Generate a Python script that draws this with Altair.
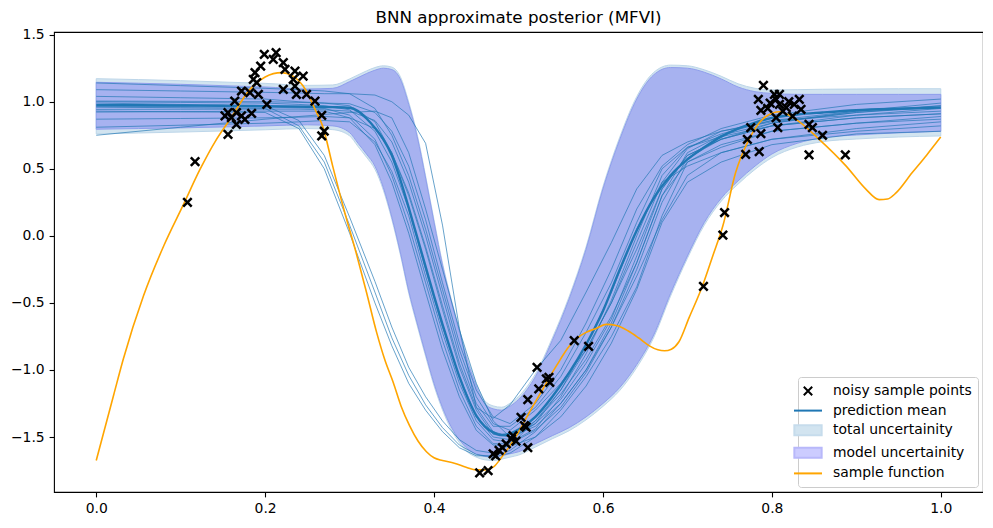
import altair as alt
import pandas as pd

# Values

TITLE = 'BNN approximate posterior (MFVI)'

X_TICKS = [0.0, 0.2, 0.4, 0.6, 0.8, 1.0]
Y_TICKS = [-1.5, -1.0, -0.5, 0.0, 0.5, 1.0, 1.5]

# noisy sample points
PTS_X = [
  0.108, 0.117, 0.1525, 0.156, 0.156, 0.160, 0.164, 0.166, 0.166, 0.172, 0.172, 0.176,
  0.182, 0.184, 0.186, 0.188, 0.190, 0.192, 0.1947, 0.199, 0.202, 0.2096, 0.213, 0.2215,
  0.2215, 0.2235, 0.2333, 0.2353, 0.2353, 0.237, 0.245, 0.249, 0.259, 0.267, 0.267, 0.270,
  0.454, 0.464, 0.470, 0.473, 0.477, 0.481, 0.4855, 0.4915, 0.4935, 0.497, 0.503,
  0.507, 0.509, 0.511, 0.511, 0.522, 0.524, 0.533, 0.536, 0.537, 0.566, 0.583,
  0.719, 0.742, 0.744, 0.769, 0.771, 0.775, 0.784, 0.785, 0.787, 0.787, 0.790,
  0.795, 0.798, 0.803, 0.805, 0.805, 0.807, 0.809, 0.809, 0.813, 0.817, 0.820,
  0.8245, 0.8265, 0.8325, 0.8345, 0.844, 0.844, 0.848, 0.860, 0.887,
]
PTS_Y = [
  0.249, 0.554, 0.894, 0.919, 0.757, 0.882, 1.005, 0.919, 0.832, 1.080, 0.894, 0.869,
  1.068, 0.914, 1.167, 1.217, 1.142, 1.055, 1.266, 1.353, 0.980, 1.316, 1.366, 1.291,
  1.092, 1.241, 1.167, 1.229, 1.117, 1.055, 1.191, 1.055, 1.005, 0.899, 0.745, 0.780,
  -1.767, -1.750, -1.625, -1.640, -1.600, -1.580, -1.551, -1.514, -1.490, -1.530, -1.353,
  -1.415, -1.427, -1.580, -1.221, -0.980, -1.141, -1.067, -1.055, -1.092, -0.782, -0.824,
  -0.377, 0.005, 0.174, 0.608, 0.720, 0.807, 1.018, 0.628, 0.936, 0.762, 1.122,
  0.950, 0.990, 1.055, 1.018, 0.881, 0.807, 1.055, 0.980, 0.930, 0.956, 1.000,
  0.893, 0.980, 1.018, 0.943, 0.832, 0.603, 0.807, 0.750, 0.603,
]

# sample function (orange)
FUNC_X = [
  0.000, 0.0205, 0.032, 0.056, 0.080, 0.1025, 0.123, 0.141, 0.1585, 0.182,
  0.200, 0.2195, 0.232, 0.245, 0.261, 0.268, 0.280, 0.294, 0.3075, 0.320,
  0.332, 0.342, 0.3515, 0.361, 0.371, 0.381, 0.391, 0.400, 0.410, 0.424,
  0.438, 0.450, 0.460, 0.470, 0.4815, 0.4975, 0.513, 0.529, 0.545, 0.5605,
  0.570, 0.580, 0.592, 0.604, 0.617, 0.630, 0.642, 0.655, 0.665, 0.673,
  0.681, 0.690, 0.702, 0.718, 0.730, 0.742, 0.757, 0.773, 0.793, 0.809,
  0.828, 0.856, 0.888, 0.911, 0.927, 0.937, 0.947, 0.966, 0.983, 1.000,
]
FUNC_Y = [
  -1.675, -1.19, -0.92, -0.447, -0.074, 0.223, 0.497, 0.705, 0.869, 1.092,
  1.185, 1.217, 1.195, 1.117, 0.919, 0.82, 0.52, 0.18, -0.12, -0.42,
  -0.72, -0.93, -1.09, -1.27, -1.415, -1.53, -1.61, -1.655, -1.675, -1.695,
  -1.725, -1.745, -1.745, -1.725, -1.638, -1.49, -1.315, -1.14, -0.968, -0.82,
  -0.76, -0.72, -0.69, -0.66, -0.67, -0.71, -0.76, -0.82, -0.85, -0.857,
  -0.845, -0.79, -0.61, -0.37, -0.15, 0.075, 0.47, 0.72, 0.89, 0.925,
  0.87, 0.72, 0.52, 0.35, 0.27, 0.275, 0.32, 0.47, 0.60, 0.737,
]

# prediction mean and the two uncertainty bands
BAND_X = [
  0.00, 0.05, 0.10, 0.15, 0.20, 0.25, 0.28, 0.30,
  0.31, 0.32, 0.33, 0.34, 0.35, 0.36, 0.37, 0.38,
  0.39, 0.40, 0.41, 0.42, 0.43, 0.44, 0.45, 0.46,
  0.47, 0.48, 0.49, 0.50, 0.52, 0.54, 0.56, 0.58,
  0.60, 0.62, 0.64, 0.66, 0.68, 0.70, 0.72, 0.74,
  0.76, 0.78, 0.80, 0.83, 0.86, 0.90, 0.95, 1.00,
]
MEAN_Y = [
  0.975, 0.974, 0.972, 0.970, 0.967, 0.963, 0.960, 0.955,
  0.930, 0.875, 0.805, 0.720, 0.600, 0.420, 0.210, -0.010,
  -0.230, -0.450, -0.660, -0.860, -1.050, -1.210, -1.340, -1.420,
  -1.465, -1.485, -1.475, -1.445, -1.350, -1.200, -1.020, -0.810,
  -0.560, -0.250, 0.040, 0.280, 0.450, 0.570, 0.660, 0.740,
  0.800, 0.845, 0.880, 0.905, 0.920, 0.937, 0.948, 0.956,
]
MODEL_HI = [
  1.145, 1.138, 1.130, 1.120, 1.110, 1.095, 1.100, 1.150,
  1.180, 1.210, 1.235, 1.250, 1.240, 1.170, 0.980, 0.740,
  0.430, 0.100, -0.220, -0.480, -0.720, -0.940, -1.120, -1.250,
  -1.290, -1.300, -1.270, -1.220, -1.050, -0.780, -0.470, -0.100,
  0.350, 0.720, 1.020, 1.200, 1.255, 1.250, 1.220, 1.170,
  1.110, 1.075, 1.062, 1.055, 1.055, 1.055, 1.055, 1.055,
]
MODEL_LO = [
  0.795, 0.800, 0.805, 0.812, 0.820, 0.828, 0.820, 0.770,
  0.690, 0.610, 0.520, 0.360, 0.140, -0.120, -0.410, -0.650,
  -0.880, -1.100, -1.280, -1.420, -1.520, -1.590, -1.625, -1.645,
  -1.650, -1.640, -1.625, -1.610, -1.550, -1.490, -1.430, -1.350,
  -1.250, -1.130, -0.960, -0.740, -0.430, -0.150, 0.100, 0.280,
  0.410, 0.520, 0.610, 0.690, 0.732, 0.752, 0.768, 0.780,
]
TOTAL_HI = [
  1.172, 1.165, 1.157, 1.147, 1.137, 1.122, 1.125, 1.170,
  1.200, 1.230, 1.255, 1.268, 1.258, 1.188, 0.998, 0.758,
  0.448, 0.118, -0.202, -0.462, -0.702, -0.922, -1.100, -1.228,
  -1.268, -1.278, -1.248, -1.198, -1.030, -0.762, -0.452, -0.082,
  0.368, 0.738, 1.038, 1.218, 1.273, 1.268, 1.238, 1.190,
  1.134, 1.100, 1.088, 1.090, 1.093, 1.095, 1.097, 1.097,
]
TOTAL_LO = [
  0.760, 0.767, 0.774, 0.782, 0.791, 0.800, 0.792, 0.746,
  0.666, 0.587, 0.497, 0.340, 0.122, -0.138, -0.428, -0.668,
  -0.898, -1.118, -1.298, -1.440, -1.542, -1.614, -1.650, -1.670,
  -1.675, -1.665, -1.650, -1.635, -1.575, -1.513, -1.453, -1.372,
  -1.272, -1.152, -0.982, -0.760, -0.450, -0.168, 0.080, 0.258,
  0.386, 0.495, 0.583, 0.662, 0.702, 0.722, 0.737, 0.745,
]

# thin posterior sample functions, one row per sample
SAMPLE_X = [
  0.00, 0.10, 0.20, 0.24, 0.27, 0.30, 0.33, 0.35, 0.37, 0.39, 0.41, 0.43, 0.45,
  0.47, 0.49, 0.52, 0.55, 0.58, 0.61, 0.64, 0.67, 0.70, 0.74, 0.80, 0.90, 1.00,
]
SAMPLES = [
  [0.93, 0.925, 0.92, 0.80, 0.50, 0.02, -0.50, -0.82, -1.10, -1.30, -1.46, -1.58, -1.64,
   -1.64, -1.60, -1.46, -1.25, -1.00, -0.68, -0.30, 0.12, 0.45, 0.62, 0.72, 0.80, 0.85],
  [0.96, 0.955, 0.95, 0.82, 0.55, 0.08, -0.42, -0.76, -1.04, -1.26, -1.43, -1.56, -1.63,
   -1.65, -1.62, -1.50, -1.30, -1.05, -0.75, -0.38, 0.15, 0.55, 0.68, 0.78, 0.84, 0.89],
  [0.99, 0.98, 0.97, 0.86, 0.60, 0.14, -0.34, -0.68, -0.98, -1.20, -1.38, -1.52, -1.60,
   -1.62, -1.56, -1.38, -1.15, -0.85, -0.50, -0.10, 0.35, 0.60, 0.72, 0.82, 0.90, 0.95],
  [1.09, 1.08, 1.07, 1.065, 1.06, 1.06, 1.05, 1.00, 0.90, 0.69, 0.08, -0.69, -1.28,
   -1.36, -1.26, -1.00, -0.78, -0.42, -0.05, 0.35, 0.60, 0.70, 0.78, 0.85, 0.92, 0.97],
  [1.14, 1.12, 1.10, 1.09, 1.08, 1.06, 0.95, 0.75, 0.45, 0.05, -0.40, -0.85, -1.20,
   -1.40, -1.45, -1.30, -1.10, -0.85, -0.50, -0.05, 0.40, 0.65, 0.78, 0.86, 0.90, 0.93],
  [1.04, 1.03, 1.02, 1.00, 0.99, 0.97, 0.85, 0.62, 0.30, -0.10, -0.55, -0.98, -1.30,
   -1.48, -1.50, -1.38, -1.18, -0.92, -0.60, -0.20, 0.30, 0.62, 0.75, 0.84, 0.92, 0.96],
  [1.00, 0.995, 0.99, 0.98, 0.97, 0.94, 0.78, 0.55, 0.20, -0.25, -0.68, -1.05, -1.35,
   -1.50, -1.52, -1.40, -1.22, -0.95, -0.62, -0.15, 0.35, 0.60, 0.72, 0.82, 0.88, 0.91],
  [0.963, 0.962, 0.96, 0.955, 0.95, 0.90, 0.72, 0.45, 0.08, -0.35, -0.78, -1.15, -1.42,
   -1.55, -1.55, -1.45, -1.28, -1.02, -0.68, -0.25, 0.25, 0.58, 0.72, 0.84, 0.93, 0.99],
  [0.943, 0.944, 0.945, 0.945, 0.94, 0.93, 0.86, 0.70, 0.40, 0.00, -0.45, -0.90, -1.25,
   -1.42, -1.42, -1.28, -1.05, -0.72, -0.35, 0.10, 0.50, 0.66, 0.76, 0.86, 0.93, 0.97],
  [0.923, 0.926, 0.93, 0.93, 0.93, 0.88, 0.68, 0.40, 0.02, -0.42, -0.85, -1.20, -1.45,
   -1.56, -1.57, -1.50, -1.35, -1.12, -0.80, -0.40, 0.10, 0.40, 0.55, 0.68, 0.76, 0.78],
  [0.87, 0.875, 0.88, 0.885, 0.89, 0.88, 0.80, 0.62, 0.32, -0.08, -0.52, -0.95, -1.28,
   -1.46, -1.50, -1.42, -1.25, -1.00, -0.65, -0.20, 0.30, 0.55, 0.66, 0.78, 0.84, 0.87],
  [0.81, 0.825, 0.84, 0.85, 0.86, 0.85, 0.70, 0.48, 0.15, -0.30, -0.72, -1.10, -1.38,
   -1.52, -1.54, -1.44, -1.20, -0.88, -0.48, 0.00, 0.45, 0.66, 0.74, 0.82, 0.88, 0.91],
  [0.75, 0.81, 0.87, 0.89, 0.905, 0.92, 0.93, 0.88, 0.62, 0.20, -0.25, -0.70, -1.10,
   -1.38, -1.50, -1.40, -1.15, -0.82, -0.42, 0.05, 0.40, 0.52, 0.62, 0.72, 0.78, 0.82],
  [1.005, 1.003, 1.00, 0.995, 0.99, 0.985, 0.92, 0.78, 0.52, 0.12, -0.35, -0.80, -1.15,
   -1.35, -1.40, -1.25, -1.00, -0.65, -0.25, 0.20, 0.52, 0.68, 0.80, 0.90, 0.98, 1.02],
]

LEGEND_LABELS = [
  'noisy sample points', 'prediction mean', 'total uncertainity',
  'model uncertainity', 'sample function',
]

# Styles

FONT = 'DejaVu Sans'
C0 = '#1f77b4'
ORANGE = '#ffa500'

LEGEND_SHAPES = [
  'M-0.6,-0.6L0.6,0.6M-0.6,0.6L0.6,-0.6',
  'M-2,0L2,0',
  'M-1.95,-0.72L1.95,-0.72L1.95,0.72L-1.95,0.72Z',
  'M-1.95,-0.72L1.95,-0.72L1.95,0.72L-1.95,0.72Z',
  'M-2,0L2,0',
]
LEGEND_STROKES = ['black', C0, '#c6dcec', '#b8b8fa', ORANGE]
LEGEND_FILLS = ['transparent', 'transparent', '#d2e4f0', '#ccccff', 'transparent']

X_SCALE = alt.Scale(domain=[-0.05, 1.05], nice=False, zero=False)
Y_SCALE = alt.Scale(domain=[-1.91, 1.52], nice=False, zero=False)


def _x(field: str) -> alt.X:
  return alt.X(f'{field}:Q', scale=X_SCALE, title=None,
               axis=alt.Axis(values=X_TICKS, format='.1f'))


def _y(field: str) -> alt.Y:
  return alt.Y(f'{field}:Q', scale=Y_SCALE, title=None,
               axis=alt.Axis(values=Y_TICKS, format='.1f'))


def _samples_frame() -> pd.DataFrame:
  rows = []
  for i, ys in enumerate(SAMPLES):
    for x, y in zip(SAMPLE_X, ys):
      rows.append({'x': x, 'y': y, 'sample': i})
  return pd.DataFrame(rows)


def _legend_layer() -> alt.Chart:
  # rows without x/y: nothing is drawn, only the legend entries
  data = pd.DataFrame({'entry': LEGEND_LABELS})
  legend = alt.Legend(
    title=None, orient='bottom-right', offset=5, padding=6,
    labelFont=FONT, labelFontSize=13.9, labelColor='black', labelOffset=17,
    symbolSize=196, symbolOffset=-4, symbolStrokeWidth=2, rowPadding=2.6,
    fillColor='rgba(255,255,255,0.8)', strokeColor='#cccccc', cornerRadius=3
  )
  return alt.Chart(data).mark_point(opacity=1).encode(
    x=_x('lx'), y=_y('ly'),
    shape=alt.Shape('entry:N', legend=legend,
                    scale=alt.Scale(domain=LEGEND_LABELS, range=LEGEND_SHAPES)),
    stroke=alt.Stroke('entry:N', legend=legend,
                      scale=alt.Scale(domain=LEGEND_LABELS, range=LEGEND_STROKES)),
    fill=alt.Fill('entry:N', legend=legend,
                  scale=alt.Scale(domain=LEGEND_LABELS, range=LEGEND_FILLS)),
  )


band = pd.DataFrame({
  'x': BAND_X, 'mean': MEAN_Y,
  'model_lo': MODEL_LO, 'model_hi': MODEL_HI,
  'total_lo': TOTAL_LO, 'total_hi': TOTAL_HI,
})
func = pd.DataFrame({'x': FUNC_X, 'y': FUNC_Y})
points = pd.DataFrame({'x': PTS_X, 'y': PTS_Y})
samples = _samples_frame()

total_band = alt.Chart(band).mark_area(
  fill='#d2e4f0', stroke='#bdd6e9', strokeWidth=1, opacity=1, interpolate='monotone'
).encode(x=_x('x'), y=_y('total_lo'), y2='total_hi')

model_band = alt.Chart(band).mark_area(
  fill='#a7b2f0', stroke='#8f9eec', strokeWidth=1, opacity=1, interpolate='monotone'
).encode(x=_x('x'), y=_y('model_lo'), y2='model_hi')

sample_lines = alt.Chart(samples).mark_line(
  color=C0, strokeWidth=0.8, opacity=0.85
).encode(x=_x('x'), y=_y('y'), detail='sample:N')

mean_line = alt.Chart(band).mark_line(
  color=C0, strokeWidth=2.4, interpolate='monotone'
).encode(x=_x('x'), y=_y('mean'))

func_line = alt.Chart(func).mark_line(
  color=ORANGE, strokeWidth=1.6, interpolate='monotone'
).encode(x=_x('x'), y=_y('y'))

point_marks = alt.Chart(points).mark_point(
  shape='M-1,-1L1,1M-1,1L1,-1', filled=False, stroke='black',
  strokeWidth=2.5, size=72, opacity=1
).encode(x=_x('x'), y=_y('y'))

chart = alt.layer(
  total_band, model_band, sample_lines, mean_line, func_line, point_marks,
  _legend_layer()
).properties(
  width=929, height=460,
  padding={'left': 2, 'top': 1, 'right': 0, 'bottom': 4},
  title=alt.TitleParams(
    TITLE, font=FONT, fontSize=16.7, fontWeight='normal', color='black',
    anchor='middle', offset=1
  )
).configure_view(
  stroke='black', strokeWidth=1.1
).configure_axis(
  domain=False, grid=False,
  labelFont=FONT, labelFontSize=13.9, labelColor='black',
  tickColor='black', tickSize=4.9, tickWidth=1.1, labelPadding=4.9
)

chart.save('out.html', embed_options={'renderer': 'svg', 'actions': False})
